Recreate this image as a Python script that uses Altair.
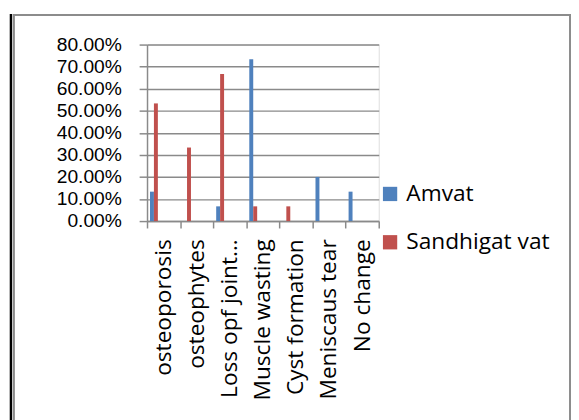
import altair as alt
import pandas as pd

categories = ["osteoporosis", "osteophytes", "Loss opf joint…", "Muscle wasting",
              "Cyst formation", "Meniscaus tear", "No change"]
series = ["Amvat", "Sandhigat vat"]
amvat = [0.1333, 0.0, 0.0667, 0.7333, 0.0, 0.20, 0.1333]
sandhigat = [0.5333, 0.3333, 0.6667, 0.0667, 0.0667, 0.0, 0.0]
y_ticks = [0, 0.1, 0.2, 0.3, 0.4, 0.5, 0.6, 0.7, 0.8]
colors = ["#4F81BD", "#C0504D"]

rows = []
for c, a, s in zip(categories, amvat, sandhigat):
    rows.append({"cat": c, "series": series[0], "val": a})
    rows.append({"cat": c, "series": series[1], "val": s})
df = pd.DataFrame(rows)

FONT = "Open Sans"
YFONT = "Liberation Sans"
GRID = "#8a8a8a"

bars = alt.Chart(df).mark_bar().encode(
    x=alt.X("cat:N", sort=categories, title=None,
            scale=alt.Scale(paddingInner=0, paddingOuter=0),
            axis=alt.Axis(labelAngle=270, labelAlign="right", labelBaseline="middle",
                          labelFontSize=23, labelFont=FONT, labelColor="black",
                          tickBand="extent", tickSize=7, tickColor=GRID, tickWidth=1.5,
                          domainColor=GRID, domainWidth=1.5, labelPadding=11,
                          labelLimit=300, labelOverlap=False, grid=False)),
    xOffset=alt.XOffset("series:N", sort=series,
                        scale=alt.Scale(domain=series, range=[3, 11],
                                        paddingInner=0, paddingOuter=0)),
    y=alt.Y("val:Q", title=None,
            scale=alt.Scale(domain=[0, 0.8], nice=False),
            axis=alt.Axis(values=y_ticks, format=".2%", labelFontSize=19.5, labelFont=YFONT,
                          labelColor="black", tickSize=8, tickColor=GRID, tickWidth=1.5,
                          domainColor=GRID, domainWidth=1.5, gridColor=GRID,
                          gridWidth=1.5, labelPadding=18, labelOverlap=False)),
    color=alt.Color("series:N", sort=series,
                    scale=alt.Scale(domain=series, range=colors),
                    legend=alt.Legend(title=None, orient="none", legendX=235, legendY=140,
                                      symbolType="square", symbolSize=210,
                                      symbolStrokeWidth=0, labelFontSize=23,
                                      labelFont=FONT, labelColor="black",
                                      rowPadding=25, padding=0, labelOffset=5)),
)

frame = alt.Chart(pd.DataFrame({"a": [0]})).mark_rect(
    fillOpacity=0, stroke="#8c8c8c", strokeWidth=2
).encode(x=alt.value(-135), x2=alt.value(429), y=alt.value(-30), y2=alt.value(400))

black = alt.Chart(pd.DataFrame({"a": [0]})).mark_rule(
    color="black", strokeWidth=2.5
).encode(x=alt.value(-138), y=alt.value(-31), y2=alt.value(400))

chart = alt.layer(bars, frame, black).properties(
    width=235, height=179,
    padding={"left": 1, "top": 1, "right": 0, "bottom": 0},
).configure_view(stroke=None).configure(background="white")

chart.save("out.html", embed_options={"renderer": "svg", "actions": False})
